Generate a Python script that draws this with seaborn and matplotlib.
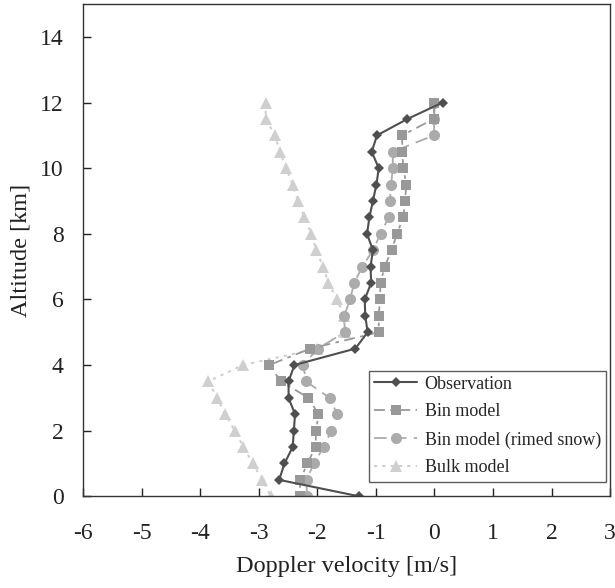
import numpy as np
import pandas as pd
import matplotlib
matplotlib.use("Agg")
import matplotlib.pyplot as plt
import seaborn as sns

# altitude levels [km], top to bottom
altitude = [12, 11.5, 11, 10.5, 10, 9.5, 9, 8.5, 8, 7.5, 7, 6.5, 6,
            5.5, 5, 4.5, 4, 3.5, 3, 2.5, 2, 1.5, 1, 0.5, 0]

observation = [0.14, -0.46, -0.98, -1.07, -0.95, -0.99, -1.05, -1.11, -1.15, -1.05,
               -1.09, -1.08, -1.19, -1.18, -1.14, -1.35, -2.39, -2.49, -2.49, -2.38,
               -2.40, -2.42, -2.56, -2.65, -1.29]
bin_model = [0.0, -0.01, -0.55, -0.55, -0.53, -0.48, -0.50, -0.53, -0.64, -0.73,
             -0.85, -0.92, -0.93, -0.95, -0.95, -2.12, -2.82, -2.62, -2.15, -1.98,
             -2.02, -2.03, -2.17, -2.29, -2.30]
bin_rimed = [0.0, 0.0, -0.01, -0.71, -0.71, -0.74, -0.76, -0.78, -0.92, -1.05,
             -1.23, -1.37, -1.44, -1.54, -1.53, -1.99, -2.24, -2.19, -1.79, -1.66,
             -1.76, -1.89, -2.06, -2.18, -2.18]
bulk_model = [-2.88, -2.88, -2.72, -2.64, -2.53, -2.42, -2.33, -2.22, -2.10, -2.02,
              -1.90, -1.81, -1.66, -1.55, -1.53, -2.00, -3.27, -3.86, -3.71, -3.57,
              -3.41, -3.26, -3.10, -2.94, -2.79]

df = pd.DataFrame({"alt": altitude, "obs": observation, "bin": bin_model,
                   "rimed": bin_rimed, "bulk": bulk_model})

sns.set_style("ticks")
plt.rcParams['font.family'] = ['Liberation Serif', 'DejaVu Serif']
plt.rcParams['axes.unicode_minus'] = False

fig = plt.figure(figsize=(6.15, 5.88), dpi=100)
ax = fig.add_axes([0.135, 0.156, 0.857, 0.837])

# lighter series first so observation sits on top
sns.lineplot(data=df, x="bulk", y="alt", sort=False, estimator=None, ax=ax,
             color="#cfcfcf", linestyle=(0, (1.5, 2.5)), linewidth=1.5,
             marker="^", markersize=8, markeredgewidth=0, label="Bulk model")
sns.lineplot(data=df, x="rimed", y="alt", sort=False, estimator=None, ax=ax,
             color="#ababab", linestyle=(0, (7, 4)), linewidth=1.3,
             marker="o", markersize=8, markeredgewidth=0, label="Bin model (rimed snow)")
sns.lineplot(data=df, x="bin", y="alt", sort=False, estimator=None, ax=ax,
             color="#999999", linestyle=(0, (6, 3, 2, 3)), linewidth=1.3,
             marker="s", markersize=7.5, markeredgewidth=0, label="Bin model")
sns.lineplot(data=df, x="obs", y="alt", sort=False, estimator=None, ax=ax,
             color="#4f4f4f", linestyle="-", linewidth=1.5,
             marker="D", markersize=5.5, markeredgewidth=0, label="Observation")

ax.set_xlim(-6, 3)
ax.set_ylim(0, 15)
ax.set_xticks(range(-6, 4))
ax.set_yticks(range(0, 15, 2))
ax.tick_params(direction="in", length=6, width=1, labelsize=17, colors="#222222")
ax.tick_params(axis="x", pad=19)
ax.tick_params(axis="y", pad=14)
for s in ax.spines.values():
    s.set_color("#333333")
    s.set_linewidth(1)

ax.set_xlabel("Doppler velocity [m/s]", fontsize=17.5, labelpad=9, color="#222222")
ax.set_ylabel("Altitude [km]", fontsize=17.5, labelpad=6, color="#222222")

handles, labels = ax.get_legend_handles_labels()
leg = ax.legend(handles[::-1], labels[::-1], loc="lower right",
                bbox_to_anchor=(0.992, 0.03), borderaxespad=0, fontsize=13,
                frameon=True, fancybox=False, edgecolor="#333333",
                handlelength=2.4, handletextpad=0.4,
                borderpad=0.28, labelspacing=0.6)
leg.get_frame().set_linewidth(1)

fig.savefig("out.png", dpi=100)
